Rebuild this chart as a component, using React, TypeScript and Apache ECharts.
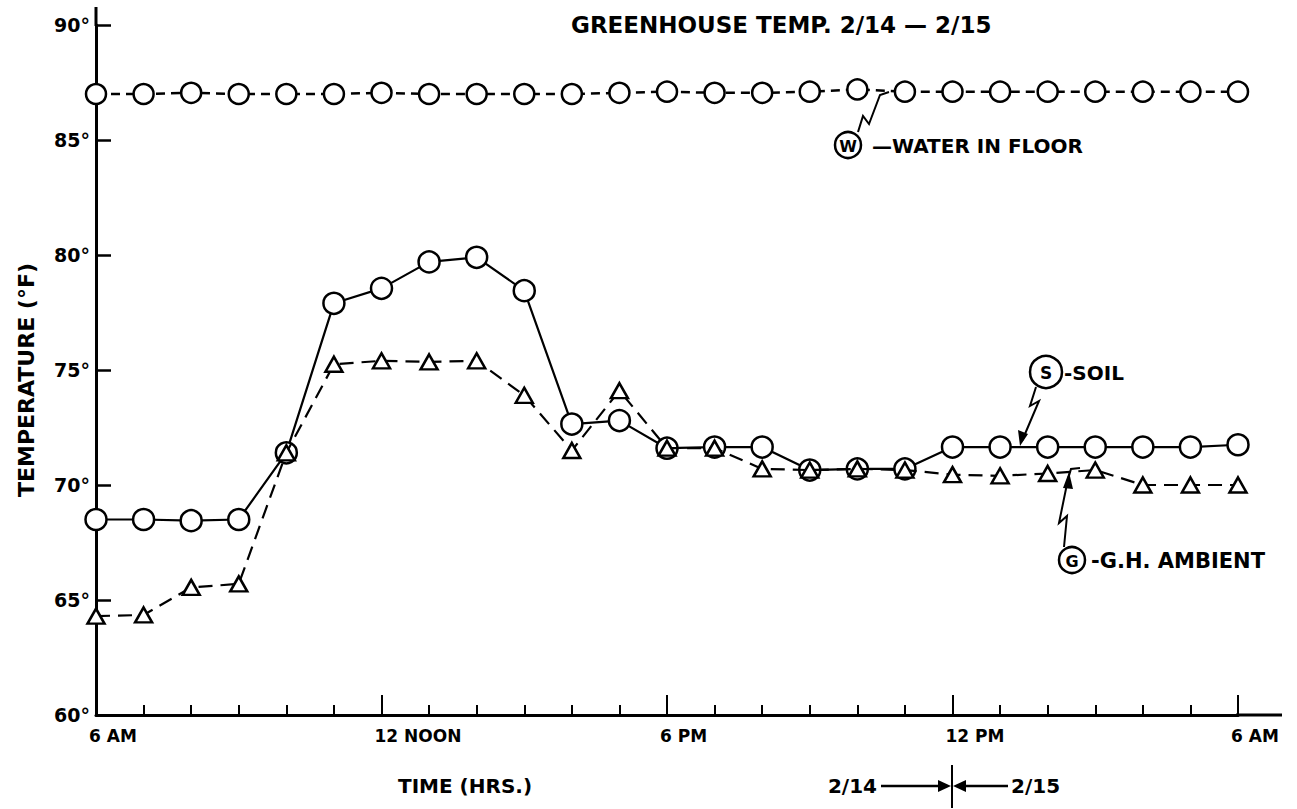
import React, { useEffect, useRef } from 'react';
import * as echarts from 'echarts';

// Hours after 6 AM on 2/14 (0 = 6 AM, 24 = 6 AM on 2/15)
const hours = [0, 1, 2, 3, 4, 5, 6, 7, 8, 9, 10, 11, 12, 13, 14, 15, 16, 17, 18, 19, 20, 21, 22, 23, 24];

const waterInFloor = [87.0, 87.0, 87.05, 87.0, 87.0, 87.0, 87.05, 87.0, 87.0, 87.0, 87.0, 87.05, 87.1, 87.05, 87.05, 87.1, 87.2, 87.1, 87.1, 87.1, 87.1, 87.1, 87.1, 87.1, 87.1];
const soil = [68.5, 68.5, 68.45, 68.5, 71.4, 77.9, 78.55, 79.7, 79.9, 78.45, 72.65, 72.8, 71.6, 71.65, 71.65, 70.65, 70.7, 70.7, 71.65, 71.65, 71.65, 71.65, 71.65, 71.65, 71.75];
const ghAmbient = [64.3, 64.35, 65.55, 65.7, 71.4, 75.25, 75.4, 75.35, 75.4, 73.9, 71.5, 74.1, 71.6, 71.6, 70.7, 70.65, 70.7, 70.65, 70.45, 70.4, 70.5, 70.65, 70.0, 70.0, 70.0];

const xMajorLabels = ['6 AM', '12 NOON', '6 PM', '12 PM', '6 AM'];

const FONT = '"DejaVu Sans", sans-serif';
const INK = '#000';

export default function App() {
  const ref = useRef<HTMLDivElement>(null);

  useEffect(() => {
    const chart = echarts.init(ref.current as HTMLDivElement, null, { renderer: 'svg' });
    const pair = (vals: number[]) => hours.map((h, i) => [h, vals[i]]);

    const txt = (text: string, x: number, y: number, size: number, align: string = 'left', extra: any = {}) => ({
      type: 'text',
      x,
      y,
      ...extra,
      style: {
        text,
        fill: INK,
        fontSize: size,
        fontWeight: 'bold',
        fontFamily: FONT,
        textAlign: align,
        textVerticalAlign: 'middle',
      },
    });
    const ring = (cx: number, cy: number, r: number) => ({
      type: 'circle',
      shape: { cx, cy, r },
      style: { fill: '#fff', stroke: INK, lineWidth: 2.5 },
    });
    const pline = (points: number[][], w = 2) => ({
      type: 'polyline',
      shape: { points },
      style: { stroke: INK, lineWidth: w, fill: null },
    });
    const seg = (x1: number, y1: number, x2: number, y2: number, w = 2) => ({
      type: 'line',
      shape: { x1, y1, x2, y2 },
      style: { stroke: INK, lineWidth: w },
    });
    const head = (points: number[][]) => ({
      type: 'polygon',
      shape: { points },
      style: { fill: INK },
    });

    chart.setOption({
      animation: false,
      backgroundColor: '#fff',
      title: {
        text: 'GREENHOUSE TEMP. 2/14 — 2/15',
        left: 566,
        top: 8,
        textStyle: { fontSize: 23, fontWeight: 'bold', fontFamily: FONT, color: INK },
      },
      grid: [
        { left: 96, right: 59, top: 25, bottom: 94 },
        // label-only grid, shifted a few pixels left so that tick labels start just before their ticks
        { left: 89, right: 66, top: 25, bottom: 94 },
      ],
      xAxis: [
        {
          type: 'value',
          gridIndex: 0,
          min: 0,
          max: 24,
          interval: 1,
          axisLine: { show: true, onZero: false, lineStyle: { color: INK, width: 3 } },
          axisTick: { show: true, inside: true, length: 10, lineStyle: { color: INK, width: 2 } },
          axisLabel: { show: false },
          splitLine: { show: false },
        },
        {
          type: 'value',
          gridIndex: 0,
          min: 0,
          max: 24,
          interval: 6,
          position: 'bottom',
          axisLine: { show: false, onZero: false },
          axisTick: { show: true, inside: true, length: 20, lineStyle: { color: INK, width: 2 } },
          axisLabel: { show: false },
          splitLine: { show: false },
        },
        {
          type: 'value',
          gridIndex: 1,
          min: 0,
          max: 24,
          interval: 6,
          position: 'bottom',
          axisLine: { show: false, onZero: false },
          axisTick: { show: false },
          axisLabel: {
            formatter: (v: number) => xMajorLabels[Math.round(v / 6)] ?? '',
            margin: 12,
            align: 'left',
            fontSize: 17,
            fontWeight: 'bold',
            fontFamily: FONT,
            color: INK,
          },
          splitLine: { show: false },
        },
      ],
      yAxis: [
        {
          type: 'value',
          gridIndex: 0,
          min: 60,
          max: 90,
          interval: 5,
          axisLine: { show: true, onZero: false, lineStyle: { color: INK, width: 3 } },
          axisTick: { show: true, inside: true, length: 15, lineStyle: { color: INK, width: 2.5 } },
          axisLabel: {
            formatter: (v: number) => `${v}°`,
            margin: 6,
            fontSize: 19,
            fontWeight: 'bold',
            fontFamily: FONT,
            color: INK,
          },
          splitLine: { show: false },
        },
        {
          type: 'value',
          gridIndex: 1,
          min: 60,
          max: 90,
          show: false,
        },
      ],
      series: [
        {
          name: 'WATER IN FLOOR',
          type: 'line',
          data: pair(waterInFloor),
          symbol: 'circle',
          symbolSize: 20,
          itemStyle: { color: '#fff', borderColor: INK, borderWidth: 2.5 },
          lineStyle: { color: INK, width: 2.5, type: [9, 6] },
          z: 2,
        },
        {
          name: 'SOIL',
          type: 'line',
          data: pair(soil),
          symbol: 'circle',
          symbolSize: 21,
          itemStyle: { color: '#fff', borderColor: INK, borderWidth: 2.5 },
          lineStyle: { color: INK, width: 2.2, type: 'solid' },
          z: 3,
        },
        {
          name: 'G.H. AMBIENT',
          type: 'line',
          data: pair(ghAmbient),
          symbol: 'triangle',
          symbolSize: [17, 15],
          itemStyle: { color: '#fff', borderColor: INK, borderWidth: 2.5 },
          lineStyle: { color: INK, width: 2.2, type: [14, 8] },
          z: 4,
        },
      ],
      graphic: [
        // axis extensions
        seg(96, 7, 96, 26, 3),
        seg(1236, 715, 1282, 715, 3),
        // y axis title (reads bottom to top)
        txt('TEMPERATURE (°F)', 26, 380, 22, 'center', { rotation: Math.PI / 2 }),
        // x axis title
        txt('TIME (HRS.)', 465, 786, 20, 'center'),
        // date divider at midnight
        txt('2/14', 877, 786, 20, 'right'),
        txt('2/15', 1011, 786, 20, 'left'),
        seg(952, 765, 952, 808, 2),
        seg(881, 786, 942, 786, 2.5),
        head([[951, 786], [938, 780], [938, 792]]),
        seg(1008, 786, 964, 786, 2.5),
        head([[953, 786], [966, 780], [966, 792]]),
        // W label
        pline([[858, 132], [863, 116], [869, 124], [880, 95], [889, 92]]),
        ring(848, 145, 13),
        txt('W', 848, 146, 16, 'center'),
        txt('—WATER IN FLOOR', 872, 146, 20, 'left'),
        // S label
        pline([[1036, 387], [1030, 406], [1039, 401], [1022, 441]]),
        head([[1020, 446], [1018, 430], [1028, 434]]),
        ring(1046, 372, 16),
        txt('S', 1046, 373, 17, 'center'),
        txt('-SOIL', 1064, 373, 20, 'left'),
        // G label
        pline([[1064, 547], [1067, 516], [1059, 523], [1068, 479], [1071, 469], [1080, 468]]),
        head([[1069, 472], [1063, 488], [1073, 489]]),
        ring(1072, 560, 13),
        txt('G', 1072, 561, 16, 'center'),
        txt('-G.H. AMBIENT', 1091, 561, 21, 'left'),
      ],
    });

    return () => chart.dispose();
  }, []);

  return (
    <div
      ref={ref}
      style={{ position: 'absolute', left: 0, top: 0, width: 1297, height: 809, background: '#fff' }}
    />
  );
}
